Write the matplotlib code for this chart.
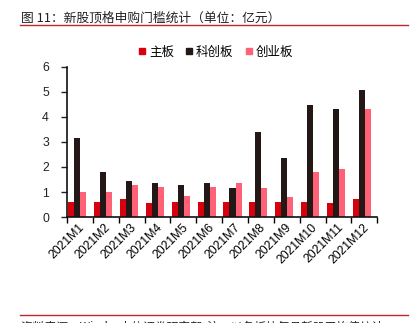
import numpy as np
import matplotlib.pyplot as plt
from matplotlib.lines import Line2D

plt.rcParams['font.family'] = ['Liberation Sans', 'Noto Sans CJK SC', 'DejaVu Sans']

months = ['2021M1', '2021M2', '2021M3', '2021M4', '2021M5', '2021M6',
          '2021M7', '2021M8', '2021M9', '2021M10', '2021M11', '2021M12']
main_board = [0.61, 0.61, 0.73, 0.57, 0.61, 0.61, 0.61, 0.61, 0.61, 0.61, 0.57, 0.73]
star_board = [3.14, 1.78, 1.46, 1.38, 1.29, 1.36, 1.16, 3.39, 2.34, 4.48, 4.30, 5.08]
chinext = [1.01, 1.01, 1.29, 1.21, 0.85, 1.20, 1.38, 1.16, 0.81, 1.78, 1.93, 4.30]
series_names = ['主板', '科创板', '创业板']
colors = ['#d7000f', '#231815', '#ff6176']

fig = plt.figure(figsize=(4.11, 3.23), dpi=100)
ax = fig.add_axes([0.163, 0.328, 0.755, 0.465])

x = np.arange(len(months))
w = 0.235
for i, (vals, c) in enumerate(zip([main_board, star_board, chinext], colors)):
    ax.bar(x + (i - 1) * w - 0.1, vals, width=w, color=c, edgecolor='none')

ax.set_xlim(-0.5, len(months) - 0.5)
ax.set_ylim(0, 6)
ax.set_yticks(range(7))
# category boundaries carry the tick marks, labels sit on the groups
ax.set_xticks(np.arange(-0.5, len(months), 1.0), minor=False)
ax.set_xticklabels([])
ax.set_xticks(x - 0.05, minor=True)
ax.set_xticklabels(months, minor=True, rotation=45, ha='right', rotation_mode='anchor', fontsize=8.8)
ax.tick_params(axis='x', which='minor', length=0, pad=3)
ax.tick_params(axis='x', which='major', length=4, width=1, direction='out')
ax.tick_params(axis='y', length=4, width=1, labelsize=8.8, pad=9, colors='#222222')
for s in ['top', 'right']:
    ax.spines[s].set_visible(False)
for s in ['left', 'bottom']:
    ax.spines[s].set_linewidth(1.2)
    ax.spines[s].set_color('#111111')

handles = [Line2D([], [], marker='s', linestyle='none', markersize=5, color=c) for c in colors]
fig.legend(handles, series_names, loc='center', bbox_to_anchor=(0.522, 0.838), ncol=3,
           frameon=False, handletextpad=0.05, columnspacing=0.7, handlelength=1.0,
           prop={'family': ['Noto Sans CJK SC'], 'size': 9})

fig.text(0.05, 0.945, '图 11：新股顶格申购门槛统计（单位：亿元）', fontsize=9.2,
         family=['Noto Sans CJK SC'], va='center', color='#222222')
fig.add_artist(Line2D([0.048, 0.993], [0.922, 0.922], color='#c0282d', linewidth=1.0))
fig.add_artist(Line2D([0.048, 0.993], [0.025, 0.025], color='#c0282d', linewidth=1.0))
fig.text(0.05, -0.012, '资料来源：Wind，中信证券研究部  注：以各板块每月新股平均值统计', fontsize=8.5,
         family=['Noto Sans CJK SC'], va='center', color='#222222')

fig.savefig('out.png', dpi=100)
